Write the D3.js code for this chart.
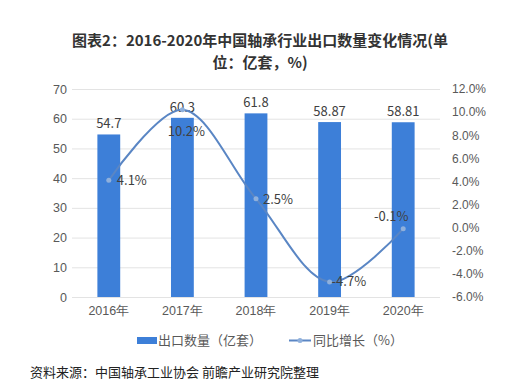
<!DOCTYPE html>
<html>
<head>
<meta charset="utf-8">
<script src="https://cdn.jsdelivr.net/npm/d3@7"></script>
<style>
  body { margin: 0; background: #fff; }
  svg { display: block; font-family: "Noto Sans CJK SC", "Noto Sans", sans-serif; }
</style>
</head>
<body>
<svg width="513" height="388"></svg>
<script>
var years = ["2016年", "2017年", "2018年", "2019年", "2020年"];
var volume = [54.7, 60.3, 61.8, 58.87, 58.81];
var growth = [4.1, 10.2, 2.5, -4.7, -0.1];
var volumeLabels = ["54.7", "60.3", "61.8", "58.87", "58.81"];
var growthLabels = ["4.1%", "10.2%", "2.5%", "-4.7%", "-0.1%"];
var leftTicks = [0, 10, 20, 30, 40, 50, 60, 70];
var rightTicks = [-6, -4, -2, 0, 2, 4, 6, 8, 10, 12];

var svg = d3.select("svg"),
    width = 513,
    height = 388;

var x = d3.scaleBand().domain(years).range([72, 440]).paddingInner(0.69).paddingOuter(0.345);
var yL = d3.scaleLinear().domain([0, 70]).range([297, 89]);
var yR = d3.scaleLinear().domain([-6, 12]).range([297, 89]);

var barColor = "#3d7fd8",
    lineColor = "#5a86c4",
    textColor = "#595959";

// title
var title = svg.append("g")
    .attr("font-weight", "bold")
    .attr("font-size", 15)
    .attr("fill", "#333")
    .attr("text-anchor", "middle");
title.append("text").attr("x", 260).attr("y", 46).text("图表2：2016-2020年中国轴承行业出口数量变化情况(单");
title.append("text").attr("x", 260).attr("y", 68).text("位：亿套，%)");

// gridlines
svg.append("g")
  .selectAll("line")
  .data(leftTicks)
  .join("line")
    .attr("x1", 72).attr("x2", 440)
    .attr("y1", d => yL(d) + 0.5).attr("y2", d => yL(d) + 0.5)
    .attr("stroke", "#e3e3e3");

// left axis
var axL = svg.append("g")
    .attr("transform", "translate(67,0)")
    .call(d3.axisLeft(yL).tickValues(leftTicks).tickSize(0).tickPadding(0));
axL.select(".domain").remove();
axL.selectAll("text").attr("font-size", 12.5).attr("fill", textColor).attr("font-family", null);

// right axis
var axR = svg.append("g")
    .attr("transform", "translate(452,0)")
    .call(d3.axisRight(yR).tickValues(rightTicks).tickSize(0).tickPadding(0)
      .tickFormat(d => d3.format(".1f")(d).replace("−", "-") + "%"));
axR.select(".domain").remove();
axR.selectAll("text").attr("font-size", 12).attr("fill", textColor).attr("font-family", null);

// bottom axis
var axB = svg.append("g")
    .attr("transform", "translate(0,297)")
    .call(d3.axisBottom(x).tickSize(0).tickPadding(9));
axB.select(".domain").remove();
axB.selectAll("text").attr("font-size", 12.5).attr("fill", textColor).attr("font-family", null);

// bars
svg.append("g")
  .selectAll("rect")
  .data(volume)
  .join("rect")
    .attr("x", (d, i) => x(years[i]))
    .attr("y", d => yL(d))
    .attr("width", x.bandwidth())
    .attr("height", d => yL(0) - yL(d))
    .attr("fill", barColor);

svg.append("g")
  .selectAll("text")
  .data(volume)
  .join("text")
    .attr("x", (d, i) => x(years[i]) + x.bandwidth() / 2)
    .attr("y", d => yL(d) - 6)
    .attr("text-anchor", "middle")
    .attr("font-size", 13)
    .attr("fill", "#404040")
    .text((d, i) => volumeLabels[i]);

// growth line
var cx = (d, i) => x(years[i]) + x.bandwidth() / 2;
var line = d3.line()
    .x(cx)
    .y(d => yR(d))
    .curve(d3.curveCatmullRom.alpha(0.5));

svg.append("path")
    .datum(growth)
    .attr("d", line)
    .attr("fill", "none")
    .attr("stroke", lineColor)
    .attr("stroke-width", 2);

svg.append("g")
  .selectAll("circle")
  .data(growth)
  .join("circle")
    .attr("cx", cx)
    .attr("cy", d => yR(d))
    .attr("r", 2.5)
    .attr("fill", "#8fb0dc");

// growth labels: offsets relative to each point
var labelDx = [8, 4, 7, 2, -12],
    labelDy = [5, 26, 5, 4, -8],
    labelAnchor = ["start", "middle", "start", "start", "middle"];
svg.append("g")
  .selectAll("text")
  .data(growth)
  .join("text")
    .attr("x", (d, i) => cx(d, i) + labelDx[i])
    .attr("y", (d, i) => yR(d) + labelDy[i])
    .attr("text-anchor", (d, i) => labelAnchor[i])
    .attr("font-size", 13)
    .attr("fill", "#404040")
    .text((d, i) => growthLabels[i]);

// legend
var lg = svg.append("g").attr("font-size", 13).attr("fill", textColor);
lg.append("rect").attr("x", 137).attr("y", 337).attr("width", 20).attr("height", 7).attr("fill", barColor);
lg.append("text").attr("x", 158).attr("y", 345).text("出口数量（亿套）");
lg.append("line").attr("x1", 289).attr("x2", 311).attr("y1", 340.5).attr("y2", 340.5)
    .attr("stroke", lineColor).attr("stroke-width", 2);
lg.append("circle").attr("cx", 300).attr("cy", 340.5).attr("r", 2.5).attr("fill", "#8fb0dc");
lg.append("text").attr("x", 313).attr("y", 345).text("同比增长（%）");

// source
svg.append("text")
    .attr("x", 30).attr("y", 377)
    .attr("font-size", 13)
    .attr("fill", "#222")
    .text("资料来源：中国轴承工业协会 前瞻产业研究院整理");
</script>
</body>
</html>
